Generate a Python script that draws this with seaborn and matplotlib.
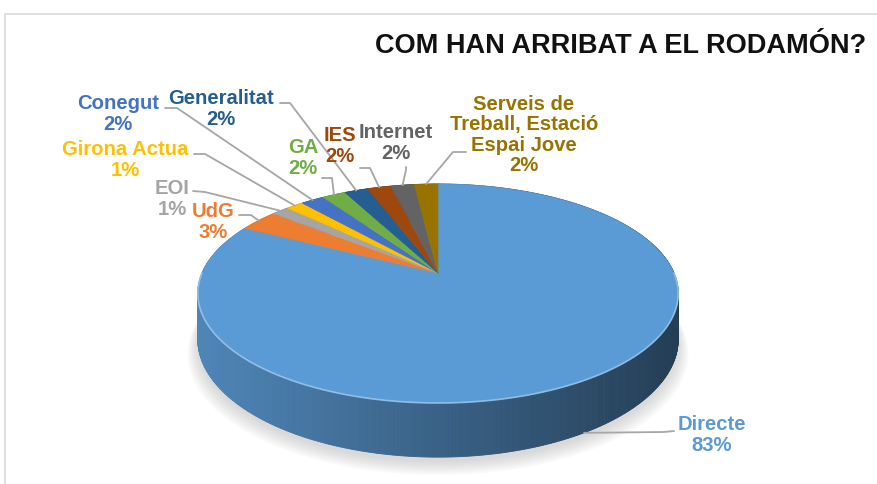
import numpy as np
import matplotlib.pyplot as plt
import matplotlib.colors as mcolors
import seaborn as sns

# data (share of responses, %)
categories = ['Directe', 'UdG', 'EOI', 'Girona Actua', 'Conegut', 'GA',
              'Generalitat', 'IES', 'Internet',
              'Serveis de\nTreball, Estació\nEspai Jove']
shares = [82.6, 3.2, 1.4, 1.4, 1.9, 1.9, 1.9, 1.9, 1.9, 1.9]
colors = ['#5B9BD5', '#ED7D31', '#A5A5A5', '#FFC000', '#4472C4', '#70AD47',
          '#255E91', '#9E480E', '#636363', '#997300']
title = 'COM HAN ARRIBAT A EL RODAMÓN?'

# label layout: text centre, leader line start and knee (pixel coords)
label_pos = [(712, 435), (213, 222), (172, 199), (125, 160), (118, 114),
             (303, 158), (221, 109), (340, 146), (396, 143), (524, 135)]
leader = [((674, 431), (664, 432)), ((239, 215), (251, 215)),
          ((193, 191), (205, 192)), ((194, 154), (205, 154)),
          ((165, 108), (177, 108)), ((322, 178), (332, 178)),
          ((280, 103), (290, 103)), ((360, 168), (370, 168)),
          ((406, 167), (406, 170)), ((466, 152), (453, 152))]

sns.set_style('white')
plt.rcParams['font.family'] = ['Liberation Sans', 'DejaVu Sans']

# pie geometry (perspective projection of a flat disc)
cx, cy = 438, 273
sx, sy, persp = 236, 105.7, 0.187
depth = 44


def project(theta, drop=0.0):
    u, v = np.sin(theta), np.cos(theta)
    k = 1 + persp * v
    return cx + sx * u / k, cy - sy * v / k + drop / k


fig = plt.figure(figsize=(8.78, 4.84), dpi=100)
ax = fig.add_axes([0, 0, 1, 1])
ax.set_xlim(0, 878)
ax.set_ylim(484, 0)
ax.axis('off')

# chart area border
ax.plot([5, 5, 900], [500, 14, 14], color='#d9d9d9', lw=1.2, zorder=0)

vals = np.array(shares)
bounds = np.concatenate([[0], np.cumsum(vals) / vals.sum()]) * 2 * np.pi

# soft shadow under the pie
tt = np.linspace(0, 2 * np.pi, 300)
for i in range(8):
    bx, by = project(tt, depth + 4 + i * 1.5)
    ax.fill(cx + (bx - cx) * (1.0 + i * 0.006), by, color='#9a9a9a',
            alpha=0.05, lw=0, zorder=1)

# side walls, back to front
segs = []
for i in range(len(vals)):
    th = np.linspace(bounds[i], bounds[i + 1], max(int(vals[i] * 8), 4))
    for a, b in zip(th[:-1], th[1:]):
        segs.append((a, b, colors[i]))
segs.sort(key=lambda s: -np.cos((s[0] + s[1]) / 2))
for a, b, c in segs:
    x1, y1 = project(a)
    x2, y2 = project(b)
    x3, y3 = project(b, depth)
    x4, y4 = project(a, depth)
    t = np.clip(((x1 + x2) / 2 - (cx - sx)) / (2 * sx), 0, 1)
    shade = np.array(mcolors.to_rgb(c)) * (0.86 - 0.46 * t)
    ax.fill([x1, x2, x3, x4], [y1, y2, y3, y4], color=shade,
            lw=0.6, ec=shade, zorder=2)

# top surface
for i in range(len(vals)):
    th = np.linspace(bounds[i], bounds[i + 1], max(int(vals[i] * 4), 3))
    px, py = project(th)
    ax.fill(np.r_[cx, px], np.r_[cy, py], color=colors[i], lw=0.4,
            ec=colors[i], zorder=3)

# light rim on the front edge
th = np.linspace(np.pi / 2, 3 * np.pi / 2, 200)
rx, ry = project(th)
ax.plot(rx, ry, color='#9fc9ef', lw=1.2, alpha=0.8, zorder=4)

# labels and leader lines
for i, name in enumerate(categories):
    mid = (bounds[i] + bounds[i + 1]) / 2
    drop = depth if np.cos(mid) < 0 else 0
    px, py = project(mid, drop)
    (x0, y0), (xk, yk) = leader[i]
    ax.plot([x0, xk, px], [y0, yk, py], color='#a6a6a6', lw=1.3, zorder=5)
    pct = 100 * shares[i] / sum(shares)
    lx, ly = label_pos[i]
    ax.text(lx, ly, f'{name}\n{pct:.0f}%', color=colors[i], fontsize=14.6,
            fontweight='bold', ha='center', va='center', linespacing=1.1,
            zorder=6)

ax.text(866, 46, title, ha='right', va='center', fontsize=19.5,
        fontweight='bold', color='#111111', zorder=6)

fig.savefig('out.png', dpi=100)
